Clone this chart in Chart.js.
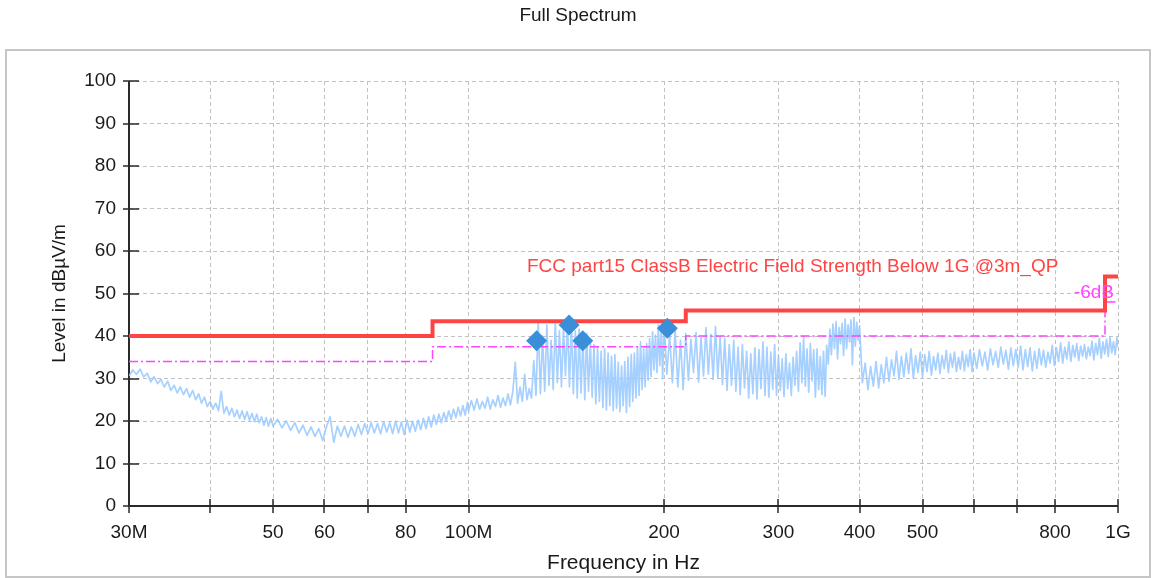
<!DOCTYPE html>
<html>
<head>
<meta charset="utf-8">
<title>Full Spectrum</title>
<script src="https://cdn.jsdelivr.net/npm/chart.js@4/dist/chart.umd.min.js"></script>
<style>
  body { margin: 0; background: #fff; }
  #wrap { position: relative; width: 1156px; height: 578px; overflow: hidden; }
  #frame { position: absolute; left: 5px; top: 49px; width: 1142px; height: 525px; border: 2px solid #c6c6c6; }
  #chart { position: absolute; left: 0; top: 0; }
</style>
</head>
<body>
<div id="wrap">
  <div id="frame"></div>
  <canvas id="chart" width="1156" height="578"></canvas>
</div>
<script>
// Data (MHz / dBuV/m)
const xGridFreqs = [30, 40, 50, 60, 70, 80, 100, 200, 300, 400, 500, 600, 700, 800, 1000];
const xTickLabels = ['30M', '', '50', '60', '', '80', '100M', '200', '300', '400', '500', '', '', '800', '1G'];

const limitFreqs = [30, 88, 216, 955, 1000];
const limitLevels = [40, 43.5, 46, 54, 54];
const marginLevels = [34, 37.5, 40, 48, 48];

const markerFreqs = [127.3, 142.8, 149.9, 202.3];
const markerLevels = [38.9, 42.6, 38.9, 41.8];

// [frequency, level]
const spectrum = [
  // 30 - 50 MHz
  [30.0, 30.6], [30.4, 32.0], [30.8, 31.0], [31.2, 32.2], [31.6, 30.4], [32.0, 31.2], [32.4, 29.2], [32.8, 30.4],
  [33.2, 28.8], [33.6, 29.8], [34.0, 28.0], [34.4, 29.4], [34.8, 27.2], [35.2, 28.4], [35.6, 26.6], [36.0, 28.0],
  [36.4, 26.2], [36.8, 27.6], [37.2, 25.6], [37.6, 27.2], [38.0, 25.0], [38.4, 26.4], [38.8, 24.2], [39.2, 25.6],
  [39.6, 23.4], [40.0, 24.6], [40.4, 22.8], [40.8, 24.2], [41.2, 22.4], [41.6, 27.0], [42.0, 21.8], [42.4, 23.4],
  [42.8, 21.4], [43.2, 23.0], [43.6, 21.0], [44.0, 22.6], [44.4, 20.6], [44.8, 22.4], [45.2, 20.4], [45.6, 22.2],
  [46.0, 20.2], [46.4, 21.8], [46.8, 19.8], [47.2, 21.6], [47.6, 19.6], [48.0, 21.0], [48.4, 19.0], [48.8, 20.8],
  [49.2, 18.8], [49.6, 20.6], [50.0, 18.8],
  // 50 - 100 MHz
  [50.8, 20.4], [51.6, 18.4], [52.4, 20.0], [53.2, 17.8], [54.0, 19.6], [54.8, 17.2], [55.6, 19.0], [56.4, 16.6],
  [57.2, 18.6], [58.0, 16.4], [58.8, 18.2], [59.6, 15.4], [60.4, 18.6], [61.2, 21.0], [62.0, 15.0], [62.8, 18.8],
  [63.6, 16.4], [64.4, 18.8], [65.2, 16.2], [66.0, 18.6], [66.8, 16.4], [67.6, 19.2], [68.4, 16.8], [69.2, 19.4],
  [70.0, 17.0], [70.8, 19.6], [71.6, 17.2], [72.4, 19.4], [73.2, 17.0], [74.0, 19.8], [74.8, 17.4], [75.6, 19.6],
  [76.4, 17.0], [77.2, 20.0], [78.0, 17.2], [78.8, 19.8], [79.6, 16.8], [80.4, 20.2], [81.2, 17.4], [82.0, 20.0],
  [82.8, 17.6], [83.6, 20.2], [84.4, 18.0], [85.2, 20.6], [86.0, 18.2], [86.8, 21.0], [87.6, 18.6], [88.4, 21.4],
  [89.2, 19.2], [90.0, 21.6], [90.8, 19.6], [91.6, 22.0], [92.4, 20.0], [93.2, 22.4], [94.0, 20.4], [94.8, 22.8],
  [95.6, 20.8], [96.4, 23.2], [97.2, 21.2], [98.0, 23.6], [98.8, 21.4], [99.6, 24.4], [100.0, 22.2],
  // 100 - 200 MHz
  [101, 24.8], [102, 22.6], [103, 25.2], [104, 22.8], [105, 24.6], [106, 23.0], [107, 25.6], [108, 22.8],
  [109, 25.0], [110, 23.4], [111, 26.0], [112, 23.2], [113, 25.4], [114, 23.6], [115, 26.4], [116, 23.8],
  [117, 27.0], [118, 33.8], [119, 24.2], [120, 28.0], [121, 24.6], [122, 31.0], [123, 25.0], [124, 27.6],
  [125, 25.4], [126, 34.2], [127, 26.0], [128, 43.0], [129, 26.4], [130, 40.0], [131, 27.0], [132, 42.6],
  [133, 28.4], [134, 39.0], [135, 27.4], [136, 43.4], [137, 29.0], [138, 41.2], [139, 28.0], [140, 42.0],
  [141, 30.6], [142, 43.6], [143, 28.0], [144, 43.0], [145, 26.4], [146, 41.2], [147, 25.4], [148, 41.6],
  [149, 26.6], [150, 40.0], [151, 25.0], [152, 40.6], [153, 27.0], [154, 38.6], [155, 25.6], [156, 38.0],
  [157, 24.0], [158, 37.2], [159, 24.6], [160, 36.4], [161, 23.2], [162, 37.0], [163, 22.6], [164, 36.0],
  [165, 23.6], [166, 35.2], [167, 22.4], [168, 35.6], [169, 23.0], [170, 33.8], [171, 22.2], [172, 33.0],
  [173, 23.6], [174, 34.0], [175, 22.0], [176, 35.0], [177, 23.4], [178, 35.6], [179, 24.6], [180, 36.0],
  [181, 25.4], [182, 37.4], [183, 26.0], [184, 38.6], [185, 27.4], [186, 37.0], [187, 28.0], [188, 38.2],
  [189, 29.6], [190, 39.4], [191, 30.4], [192, 41.0], [193, 32.0], [194, 40.2], [195, 31.4], [196, 42.6],
  [197, 33.0], [198, 41.8], [199, 30.0], [200, 43.0],
  // 200 - 400 MHz
  [202, 31.0], [204, 40.2], [206, 29.0], [208, 41.4], [210, 28.0], [212, 39.0], [214, 27.4], [216, 40.6],
  [218, 29.6], [220, 39.2], [222, 31.4], [224, 40.8], [226, 29.2], [228, 39.6], [230, 30.6], [232, 42.0],
  [234, 31.0], [236, 40.4], [238, 29.8], [240, 42.2], [242, 30.2], [244, 39.8], [246, 28.6], [248, 39.4],
  [250, 27.2], [252, 38.0], [254, 28.4], [256, 39.0], [258, 27.0], [260, 37.4], [262, 26.2], [264, 38.0],
  [266, 27.8], [268, 36.4], [270, 25.4], [272, 35.8], [274, 26.4], [276, 37.2], [278, 25.2], [280, 36.8],
  [282, 27.6], [284, 38.6], [286, 26.0], [288, 37.4], [290, 25.6], [292, 36.2], [294, 27.4], [296, 38.0],
  [298, 26.0], [300, 35.4], [302, 27.2], [304, 34.6], [306, 25.8], [308, 35.8], [310, 27.6], [312, 33.6],
  [314, 26.0], [316, 35.0], [318, 28.4], [320, 36.4], [322, 27.0], [324, 38.4], [326, 29.0], [328, 39.6],
  [330, 28.2], [332, 37.0], [334, 26.8], [336, 38.2], [338, 29.4], [340, 36.8], [342, 25.6], [344, 37.0],
  [346, 27.4], [348, 35.2], [350, 26.2], [352, 36.4], [354, 25.8], [356, 37.8], [358, 33.4], [360, 41.6],
  [362, 35.6], [364, 42.8], [366, 37.0], [368, 43.4], [370, 34.6], [372, 42.0], [374, 38.2], [376, 43.0],
  [378, 35.4], [380, 44.0], [382, 37.0], [384, 42.6], [386, 38.6], [388, 43.8], [390, 33.2], [392, 44.4],
  [394, 37.6], [396, 43.2], [398, 39.0], [400, 42.4],
  // 400 - 600 MHz
  [404, 29.0], [408, 33.6], [412, 27.4], [416, 32.8], [420, 28.2], [424, 34.0], [428, 27.8], [432, 33.2],
  [436, 29.0], [440, 35.0], [444, 29.4], [448, 34.4], [452, 30.6], [456, 36.4], [460, 29.8], [464, 35.2],
  [468, 30.4], [472, 36.0], [476, 31.2], [480, 37.0], [484, 30.0], [488, 35.4], [492, 31.4], [496, 36.2],
  [500, 30.4], [504, 35.6], [508, 31.6], [512, 36.4], [516, 30.8], [520, 35.2], [524, 32.0], [528, 36.0],
  [532, 31.2], [536, 35.4], [540, 32.4], [544, 36.6], [548, 31.4], [552, 35.8], [556, 32.6], [560, 36.2],
  [564, 31.6], [568, 35.0], [572, 32.2], [576, 36.4], [580, 31.8], [584, 35.6], [588, 32.8], [592, 36.8],
  [596, 31.6], [600, 36.0],
  // 600 - 1000 MHz
  [606, 32.4], [612, 36.8], [618, 33.0], [624, 36.2], [630, 32.0], [636, 37.0], [642, 33.2], [648, 36.4],
  [654, 32.6], [660, 37.4], [666, 33.4], [672, 36.6], [678, 32.2], [684, 37.2], [690, 33.0], [696, 36.8],
  [702, 32.6], [708, 37.6], [714, 32.0], [720, 36.8], [726, 32.8], [732, 37.2], [738, 31.8], [744, 36.4],
  [750, 32.4], [756, 37.0], [762, 33.2], [768, 36.6], [774, 32.6], [780, 36.2], [786, 33.6], [792, 37.8],
  [798, 33.0], [804, 37.2], [810, 34.0], [816, 38.4], [822, 33.6], [828, 37.4], [834, 34.6], [840, 38.6],
  [846, 34.0], [852, 37.8], [858, 35.0], [864, 38.2], [870, 34.2], [876, 37.6], [882, 35.2], [888, 38.0],
  [894, 34.6], [900, 37.4], [906, 35.4], [912, 38.8], [918, 34.4], [924, 38.2], [930, 35.6], [936, 39.4],
  [942, 34.8], [948, 38.6], [954, 35.8], [960, 39.2], [966, 35.2], [972, 39.8], [978, 36.0], [984, 38.6],
  [990, 35.6], [996, 39.6], [1000, 37.4]
];

const limitName = 'FCC part15 ClassB Electric Field Strength Below 1G @3m_QP';
const marginName = '-6dB';

// Styles
const FONT = '"Liberation Sans", Arial, sans-serif';
const textColor = '#1a1a1a';
const limitColor = '#ff4444';
const marginColor = '#ff44ff';

function toPoints(xs, ys) {
  return xs.map((f, i) => ({ x: f, y: ys[i] }));
}

// axis lines with ticks crossing the axis, plus the limit line captions
const axisPlugin = {
  id: 'axisPlugin',
  beforeDatasetsDraw(chart) {
    const { ctx, chartArea: a, scales: { x, y } } = chart;
    ctx.save();
    ctx.strokeStyle = '#2a2a2a';
    ctx.lineWidth = 2;
    ctx.beginPath();
    ctx.moveTo(a.left, a.top);
    ctx.lineTo(a.left, a.bottom);
    ctx.lineTo(a.right, a.bottom);
    ctx.stroke();
    ctx.lineWidth = 1.5;
    ctx.beginPath();
    y.ticks.forEach(t => {
      const py = Math.round(y.getPixelForValue(t.value));
      ctx.moveTo(a.left - 6, py);
      ctx.lineTo(a.left + 10, py);
    });
    x.ticks.forEach(t => {
      const px = Math.round(x.getPixelForValue(t.value));
      ctx.moveTo(px, a.bottom - 7);
      ctx.lineTo(px, a.bottom + 7);
    });
    ctx.stroke();
    ctx.restore();
  },
  afterDatasetsDraw(chart) {
    const { ctx, scales: { x, y } } = chart;
    ctx.save();
    ctx.font = '19px ' + FONT;
    ctx.textBaseline = 'middle';
    ctx.textAlign = 'left';
    ctx.fillStyle = limitColor;
    ctx.fillText(limitName, x.getPixelForValue(123), y.getPixelForValue(56.2));
    ctx.textAlign = 'right';
    ctx.fillStyle = marginColor;
    ctx.fillText(marginName, x.getPixelForValue(986), y.getPixelForValue(50.1));
    ctx.restore();
  }
};

new Chart(document.getElementById('chart'), {
  type: 'line',
  data: {
    datasets: [
      {
        label: 'Final',
        type: 'scatter',
        data: toPoints(markerFreqs, markerLevels),
        pointStyle: 'rectRot',
        pointRadius: 10.5,
        backgroundColor: '#3b8fd8',
        borderColor: '#3b8fd8',
        borderWidth: 0,
        clip: false
      },
      {
        label: limitName,
        data: toPoints(limitFreqs, limitLevels),
        stepped: true,
        borderColor: limitColor,
        borderWidth: 4,
        pointRadius: 0
      },
      {
        label: marginName,
        data: toPoints(limitFreqs, marginLevels),
        stepped: true,
        borderColor: marginColor,
        borderWidth: 1.5,
        borderDash: [9, 3, 2, 3],
        pointRadius: 0
      },
      {
        label: 'Spectrum',
        data: spectrum.map(([f, l]) => ({ x: f, y: l })),
        borderColor: 'rgba(150, 200, 255, 0.85)',
        borderWidth: 1.7,
        borderJoinStyle: 'round',
        pointRadius: 0,
        tension: 0
      }
    ]
  },
  options: {
    responsive: false,
    devicePixelRatio: 1,
    animation: false,
    events: [],
    layout: { padding: 0 },
    plugins: {
      legend: { display: false },
      tooltip: { enabled: false },
      title: {
        display: true,
        text: 'Full Spectrum',
        color: textColor,
        font: { family: FONT, size: 19, weight: 'normal' },
        padding: { top: 4.6, bottom: 53.6 }
      }
    },
    scales: {
      x: {
        type: 'logarithmic',
        min: 30,
        max: 1000,
        afterBuildTicks: scale => { scale.ticks = xGridFreqs.map(v => ({ value: v })); },
        afterFit: scale => { scale.height = 72; },
        ticks: {
          autoSkip: false,
          maxRotation: 0,
          padding: 15,
          color: textColor,
          font: { family: FONT, size: 19 },
          callback: value => {
            const i = xGridFreqs.indexOf(value);
            return i >= 0 ? xTickLabels[i] : '';
          }
        },
        grid: { color: '#c2c2c2', lineWidth: 1, drawTicks: false },
        border: { display: false, dash: [4, 3] },
        title: {
          display: true,
          text: 'Frequency in Hz',
          color: textColor,
          font: { family: FONT, size: 21 },
          padding: { top: 0, bottom: 2.5 }
        }
      },
      y: {
        min: 0,
        max: 100,
        afterFit: scale => { scale.width = 129; },
        ticks: {
          stepSize: 5,
          padding: 13,
          color: textColor,
          font: { family: FONT, size: 19 },
          callback: value => (value % 10 === 0 ? value : '')
        },
        grid: { color: '#c2c2c2', lineWidth: 1, drawTicks: false },
        border: { display: false, dash: [4, 3] },
        title: {
          display: true,
          text: 'Level in dBµV/m',
          color: textColor,
          font: { family: FONT, size: 19 },
          padding: { top: 48, bottom: 0 }
        }
      },
      // empty right-hand box so the plot ends where the reference does
      yRight: {
        position: 'right',
        min: 0,
        max: 100,
        afterFit: scale => { scale.width = 38; },
        ticks: { display: false },
        grid: { display: false },
        border: { display: false }
      }
    }
  },
  plugins: [axisPlugin]
});
</script>
</body>
</html>
